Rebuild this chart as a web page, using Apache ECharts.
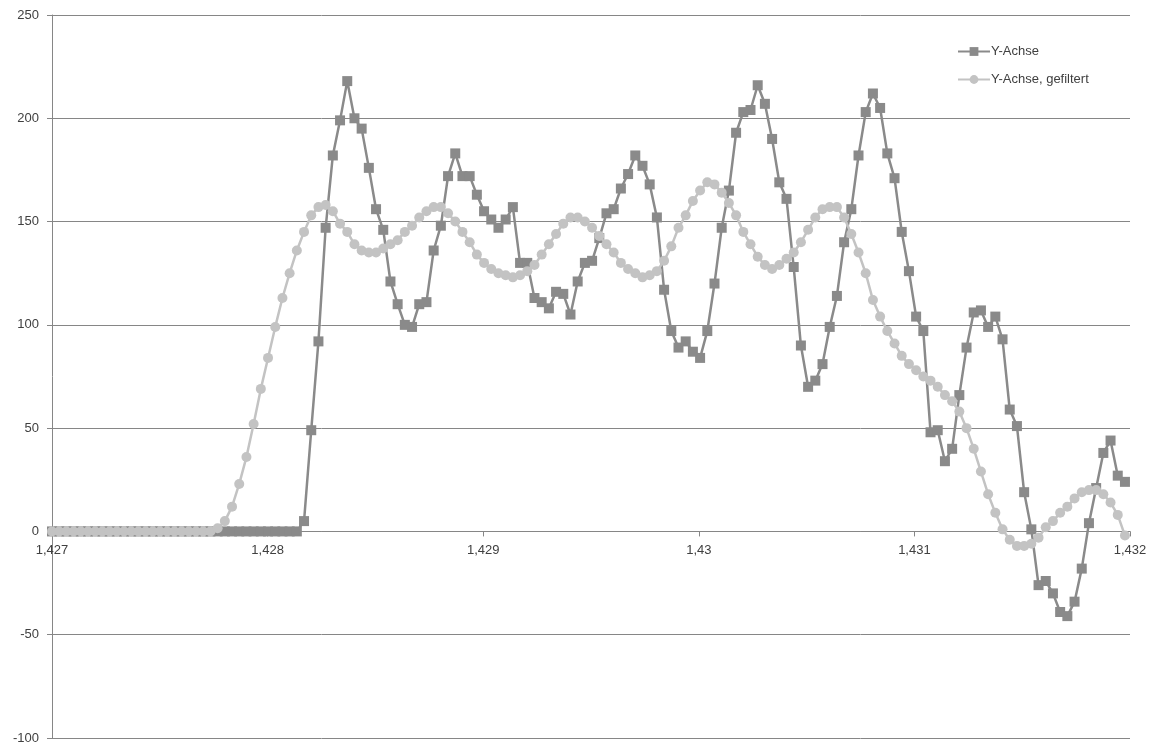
<!DOCTYPE html>
<html>
<head>
<meta charset="utf-8">
<script src="https://cdn.jsdelivr.net/npm/echarts@6/dist/echarts.min.js"></script>
<style>
  html, body { margin: 0; padding: 0; background: #ffffff; }
  #chart { width: 1155px; height: 742px; }
</style>
</head>
<body>
<div id="chart"></div>
<script>
// Sampling clock of the recording (x in the logged time unit)
const sampleStart = 1.427;
const sampleStep = 0.0000334;

// Raw Y-axis signal, one value per sample
const rawValues = [
  0, 0, 0, 0, 0, 0, 0, 0, 0, 0,
  0, 0, 0, 0, 0, 0, 0, 0, 0, 0,
  0, 0, 0, 0, 0, 0, 0, 0, 0, 0,
  0, 0, 0, 0, 0, 5, 49, 92, 147, 182,
  199, 218, 200, 195, 176, 156, 146, 121, 110, 100,
  99, 110, 111, 136, 148, 172, 183, 172, 172, 163,
  155, 151, 147, 151, 157, 130, 130, 113, 111, 108,
  116, 115, 105, 121, 130, 131, 142, 154, 156, 166,
  173, 182, 177, 168, 152, 117, 97, 89, 92, 87,
  84, 97, 120, 147, 165, 193, 203, 204, 216, 207,
  190, 169, 161, 128, 90, 70, 73, 81, 99, 114,
  140, 156, 182, 203, 212, 205, 183, 171, 145, 126,
  104, 97, 48, 49, 34, 40, 66, 89, 106, 107,
  99, 104, 93, 59, 51, 19, 1, -26, -24, -30,
  -39, -41, -34, -18, 4, 21, 38, 44, 27, 24
];

// Filtered Y-axis signal, same samples
const filteredValues = [
  0, 0, 0, 0, 0, 0, 0, 0, 0, 0,
  0, 0, 0, 0, 0, 0, 0, 0, 0, 0,
  0, 0, 0, 1.5, 5, 12, 23, 36, 52, 69,
  84, 99, 113, 125, 136, 145, 153, 157, 158, 155,
  149, 145, 139, 136, 135, 135, 137, 139, 141, 145,
  148, 152, 155, 157, 157, 154, 150, 145, 140, 134,
  130, 127, 125, 124, 123, 124, 126, 129, 134, 139,
  144, 149, 152, 152, 150, 147, 143, 139, 135, 130,
  127, 125, 123, 124, 126, 131, 138, 147, 153, 160,
  165, 169, 168, 164, 159, 153, 145, 139, 133, 129,
  127, 129, 132, 135, 140, 146, 152, 156, 157, 157,
  152, 144, 135, 125, 112, 104, 97, 91, 85, 81,
  78, 75, 73, 70, 66, 63, 58, 50, 40, 29,
  18, 9, 1, -4, -7, -7, -6, -3, 2, 5,
  9, 12, 16, 19, 20, 20, 18, 14, 8, -2
];

const seriesNames = ['Y-Achse', 'Y-Achse, gefiltert'];
const xTickLabels = ['1,427', '1,428', '1,429', '1,43', '1,431', '1,432'];
const yTickLabels = ['-100', '-50', '0', '50', '100', '150', '200', '250'];

const yMin = -100;
const yMax = 250;

function toPairs(values) {
  return values.map((v, i) => [sampleStart + i * sampleStep, v]);
}

const textColor = '#404040';
const axisGray = '#868686';
const fontFamily = '"Liberation Sans", "DejaVu Sans", sans-serif';

const chartEl = document.getElementById('chart');
const gridBox = { left: 52, right: 25, top: 15, bottom: 4 };
// The category axis crosses the value axis at 0: lift it (with its labels) to that level
const plotHeight = chartEl.clientHeight - gridBox.top - gridBox.bottom;
const zeroLift = plotHeight * (0 - yMin) / (yMax - yMin);

const chart = echarts.init(chartEl, null, { renderer: 'canvas' });

chart.setOption({
  animation: false,
  backgroundColor: '#ffffff',
  grid: Object.assign({ containLabel: false, outerBoundsMode: 'none' }, gridBox),
  legend: {
    orient: 'vertical',
    left: 952,
    top: 40,
    itemWidth: 32,
    itemHeight: 11,
    itemGap: 15,
    textStyle: { color: textColor, fontSize: 13, fontFamily: fontFamily, padding: [0, 0, 0, -4] },
    data: seriesNames
  },
  xAxis: {
    type: 'value',
    min: 1.427,
    max: 1.432,
    interval: 0.001,
    position: 'bottom',
    offset: -zeroLift,
    axisLine: { onZero: false, lineStyle: { color: axisGray, width: 1 } },
    axisTick: { show: true, length: 5, lineStyle: { color: axisGray } },
    splitLine: { show: false },
    axisLabel: {
      color: textColor,
      fontSize: 13,
      fontFamily: fontFamily,
      margin: 12,
      formatter: (v, idx) => xTickLabels[idx]
    }
  },
  yAxis: {
    type: 'value',
    min: yMin,
    max: yMax,
    interval: 50,
    axisLine: { show: true, onZero: false, lineStyle: { color: axisGray, width: 1 } },
    axisTick: { show: true, length: 5, lineStyle: { color: axisGray } },
    splitLine: { show: true, lineStyle: { color: axisGray, width: 1 } },
    axisLabel: {
      color: textColor,
      fontSize: 13,
      fontFamily: fontFamily,
      margin: 13,
      formatter: (v, idx) => yTickLabels[idx]
    }
  },
  series: [
    {
      name: seriesNames[0],
      type: 'line',
      data: toPairs(rawValues),
      symbol: 'rect',
      symbolSize: 10,
      showAllSymbol: true,
      lineStyle: { color: '#8a8a8a', width: 2.5 },
      itemStyle: { color: '#8a8a8a' },
      z: 3
    },
    {
      name: seriesNames[1],
      type: 'line',
      data: toPairs(filteredValues),
      symbol: 'circle',
      symbolSize: 10,
      showAllSymbol: true,
      lineStyle: { color: '#c3c3c3', width: 2.5 },
      itemStyle: { color: '#c3c3c3' },
      z: 4
    }
  ]
});
</script>
</body>
</html>
